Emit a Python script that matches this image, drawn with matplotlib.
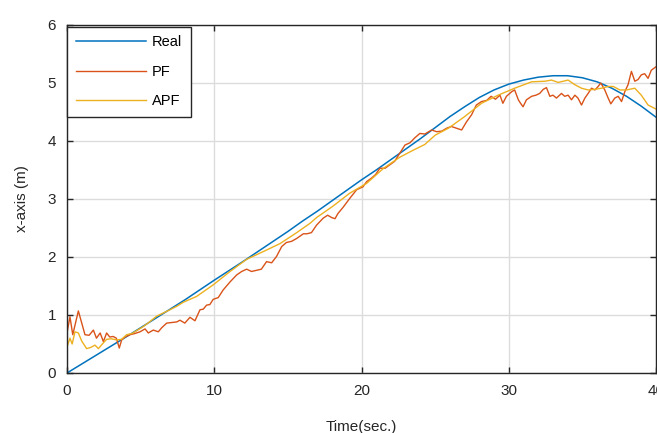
import matplotlib.pyplot as plt

plt.rcParams['font.family'] = ['Liberation Sans', 'DejaVu Sans']

# Real trajectory
t_real = [0, 1, 2, 3, 4, 5, 6, 7, 8, 9, 10, 11, 12, 13, 14, 15, 16, 17, 18, 19, 20,
          21, 22, 23, 24, 25, 26, 27, 28, 29, 30, 31, 32, 33, 34, 35, 36, 37, 38, 39, 40]
x_real = [0, 0.155, 0.31, 0.465, 0.62, 0.78, 0.94, 1.10, 1.26, 1.43, 1.60, 1.765, 1.93,
          2.10, 2.27, 2.44, 2.62, 2.79, 2.97, 3.15, 3.33, 3.50, 3.68, 3.86, 4.04, 4.23,
          4.42, 4.59, 4.75, 4.88, 4.98, 5.05, 5.10, 5.125, 5.125, 5.09, 5.02, 4.91, 4.77,
          4.60, 4.41]

# PF estimate
t_pf = [0, 0.2, 0.39, 0.77, 1.0, 1.22, 1.5, 1.79, 2.0, 2.25, 2.47, 2.69, 2.9, 3.13, 3.35,
        3.55, 3.71, 3.94, 4.28, 4.6, 4.96, 5.3, 5.52, 5.86, 6.2, 6.43, 6.77, 7.1, 7.45,
        7.67, 8.0, 8.35, 8.69, 9.03, 9.25, 9.48, 9.7, 9.93, 10.27, 10.6, 11.07, 11.52,
        11.86, 12.2, 12.53, 12.87, 13.2, 13.55, 13.9, 14.23, 14.58, 14.9, 15.25, 15.6,
        16.05, 16.3, 16.6, 16.95, 17.4, 17.7, 17.97, 18.2, 18.4, 18.76, 19.2, 19.67, 20.1,
        20.35, 20.68, 20.95, 21.25, 21.6, 21.93, 22.25, 22.6, 22.95, 23.3, 23.6, 23.96,
        24.3, 24.76, 25.1, 25.45, 25.78, 26.1, 26.45, 26.8, 27.13, 27.47, 27.8, 28.15,
        28.5, 28.8, 29.1, 29.4, 29.6, 29.84, 30.2, 30.4, 30.65, 30.8, 30.97, 31.2, 31.55,
        31.85, 32.1, 32.34, 32.56, 32.79, 33.0, 33.24, 33.58, 33.8, 34.03, 34.26, 34.49,
        34.7, 34.94, 35.17, 35.39, 35.62, 35.85, 36.07, 36.25, 36.52, 36.75, 36.93, 37.2,
        37.43, 37.66, 37.88, 38.1, 38.33, 38.56, 38.78, 39.0, 39.23, 39.46, 39.68, 40.0]
x_pf = [0.69, 0.97, 0.66, 1.07, 0.86, 0.66, 0.65, 0.74, 0.60, 0.69, 0.54, 0.69, 0.62, 0.63,
        0.60, 0.43, 0.57, 0.62, 0.66, 0.68, 0.71, 0.76, 0.69, 0.74, 0.71, 0.78, 0.86, 0.87,
        0.88, 0.91, 0.86, 0.96, 0.90, 1.09, 1.10, 1.17, 1.18, 1.27, 1.30, 1.43, 1.57, 1.69,
        1.75, 1.79, 1.75, 1.77, 1.79, 1.92, 1.90, 2.01, 2.18, 2.25, 2.27, 2.32, 2.40, 2.40,
        2.42, 2.55, 2.67, 2.72, 2.68, 2.66, 2.75, 2.86, 3.01, 3.16, 3.21, 3.30, 3.36, 3.42,
        3.53, 3.53, 3.59, 3.65, 3.79, 3.93, 3.97, 4.05, 4.13, 4.12, 4.19, 4.16, 4.17, 4.22,
        4.25, 4.22, 4.19, 4.33, 4.45, 4.62, 4.68, 4.70, 4.77, 4.72, 4.79, 4.65, 4.77, 4.85,
        4.88, 4.71, 4.65, 4.59, 4.71, 4.77, 4.79, 4.82, 4.89, 4.92, 4.77, 4.79, 4.74, 4.82,
        4.77, 4.79, 4.71, 4.79, 4.74, 4.62, 4.74, 4.82, 4.91, 4.88, 4.94, 5.00, 4.88, 4.74,
        4.64, 4.74, 4.77, 4.68, 4.85, 4.97, 5.20, 5.03, 5.06, 5.14, 5.16, 5.08, 5.22, 5.28]

# APF estimate
t_apf = [0, 0.2, 0.35, 0.54, 0.77, 1.0, 1.33, 1.6, 1.9, 2.13, 2.4, 2.69, 3.0, 3.37, 3.7,
         4.05, 4.4, 4.8, 5.18, 5.6, 6.09, 6.5, 6.99, 7.45, 7.9, 8.8, 9.93, 11.07, 12.2,
         13.3, 14.46, 15.6, 16.5, 16.95, 18.08, 19.2, 20.35, 21.5, 22.6, 23.5, 24.3, 25.0,
         25.9, 27.0, 28.15, 29.28, 30.4, 31.55, 32.45, 32.9, 33.36, 34.03, 34.49, 34.94,
         35.39, 35.85, 36.3, 36.75, 37.1, 37.54, 38.0, 38.56, 39.0, 39.46, 40.0]
x_apf = [0.45, 0.60, 0.50, 0.71, 0.69, 0.55, 0.42, 0.44, 0.48, 0.42, 0.50, 0.58, 0.59, 0.57,
         0.58, 0.66, 0.68, 0.74, 0.80, 0.88, 0.98, 1.03, 1.09, 1.15, 1.22, 1.32, 1.52, 1.75,
         1.96, 2.09, 2.23, 2.42, 2.58, 2.68, 2.88, 3.10, 3.27, 3.53, 3.72, 3.84, 3.94, 4.10,
         4.22, 4.42, 4.65, 4.79, 4.91, 5.02, 5.03, 5.05, 5.01, 5.05, 4.97, 4.91, 4.88, 4.89,
         4.91, 4.94, 4.94, 4.88, 4.88, 4.91, 4.79, 4.62, 4.55]

fig = plt.figure(figsize=(6.57, 4.33), dpi=100)
ax = fig.add_axes([0.102, 0.1386, 0.8965, 0.8037])

ax.plot(t_real, x_real, color='#0072BD', lw=1.1, label='Real')
ax.plot(t_pf, x_pf, color='#D95319', lw=1.0, label='PF')
ax.plot(t_apf, x_apf, color='#EDB120', lw=1.0, label='APF')

ax.set_xlim(0, 40)
ax.set_ylim(0, 6)
ax.set_xticks([0, 10, 20, 30, 40])
ax.set_yticks([0, 1, 2, 3, 4, 5, 6])
ax.grid(True, color='#DCDCDC', lw=1)
ax.set_axisbelow(True)
ax.tick_params(direction='in', top=True, right=True, length=4, width=1,
               colors='#262626', labelsize=11, pad=8)
for s in ax.spines.values():
    s.set_color('#262626')
    s.set_linewidth(1)

ax.set_xlabel('Time(sec.)', fontsize=11, color='#262626', labelpad=16)
ax.set_ylabel('x-axis (m)', fontsize=11, color='#262626', labelpad=13)

leg = ax.legend(loc='upper left', bbox_to_anchor=(0, 0.995), fontsize=10.5,
                handlelength=4.8, labelspacing=1.05, handletextpad=0.4,
                borderaxespad=0, fancybox=False, framealpha=1,
                borderpad=0.6)
leg.get_frame().set_edgecolor('#262626')
leg.get_frame().set_linewidth(1)

plt.savefig('out.png', dpi=100)
